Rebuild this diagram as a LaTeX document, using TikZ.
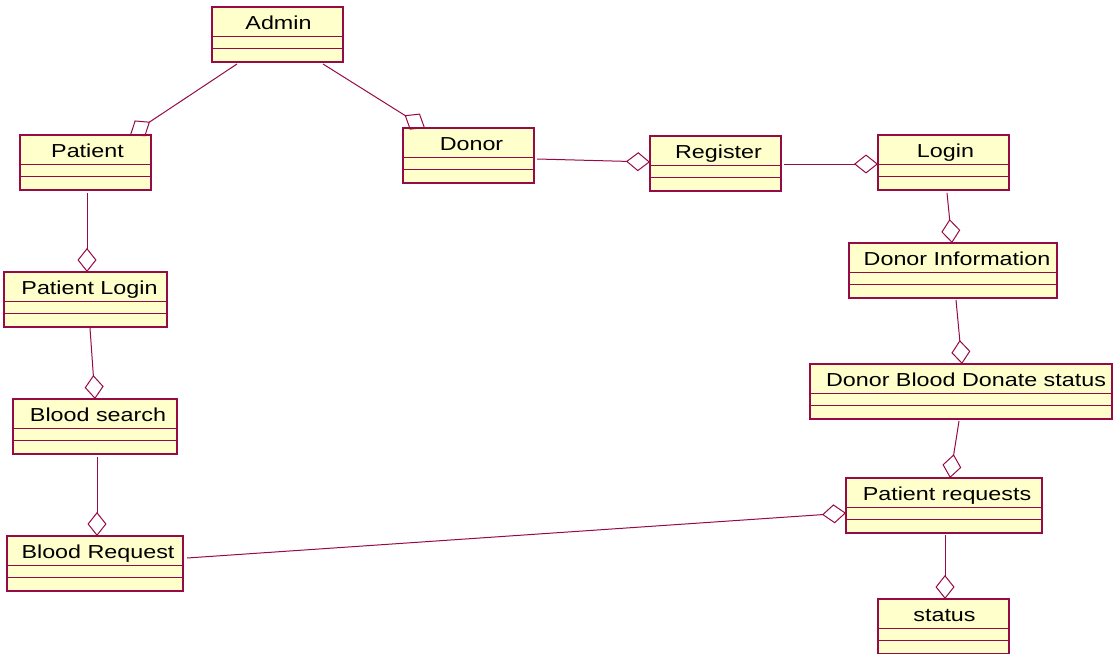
\documentclass[tikz,border=0pt]{standalone}
\usepackage{fontspec}
\newfontfamily\classfont[FakeStretch=1.24]{Liberation Sans}
\usetikzlibrary{arrows.meta,calc}

\definecolor{classline}{RGB}{150,10,70}
\definecolor{classfill}{RGB}{255,255,204}

\tikzset{
  classbox/.style={draw=classline, fill=classfill, line width=1.2pt,
    minimum height=55pt, inner sep=0pt, outer sep=0pt},
  divider/.style={draw=classline, line width=0.8pt},
  classname/.style={font=\classfont\fontsize{18.8}{20}\selectfont, inner sep=0pt},
  agg/.style={draw=classline, line width=1pt,
    -{Diamond[open, length=24pt, width=19pt]}}
}

% \umlclass[text shift]{id}{left}{top}{width}{name}
\newcommand{\umlclass}[6][3]{%
  \node[classbox, minimum width=#5pt, anchor=north west] (#2) at (#3,#4) {};
  \draw[divider] ($(#2.north west)+(0,29.5)$) -- ($(#2.north east)+(0,29.5)$);
  \draw[divider] ($(#2.north west)+(0,41)$) -- ($(#2.north east)+(0,41)$);
  \node[classname, anchor=base] (#2-name) at ($(#2.north)+(#1,22)$) {#6};
}

\begin{document}
\begin{tikzpicture}[x=1pt, y=-1pt]
  \fill[white] (0,0) rectangle (1113,653);
  \useasboundingbox (0,0) rectangle (1113,653);

  % classes
  \umlclass[1]{admin}{212}{7}{131}{Admin}
  \umlclass[2]{patient}{20}{135}{131}{Patient}
  \umlclass[4]{plogin}{4}{272}{163}{Patient Login}
  \umlclass{bsearch}{13}{399}{164}{Blood search}
  \umlclass{breq}{7}{536}{176}{Blood Request}
  \umlclass{donor}{403}{128}{131}{Donor}
  \umlclass{register}{650}{136}{131}{Register}
  \umlclass[2]{login}{878}{135}{131}{Login}
  \umlclass[4]{dinfo}{849}{243}{208}{Donor Information}
  \umlclass[5]{dbds}{810}{364}{302}{Donor Blood Donate status}
  \umlclass{preq}{846}{478}{196}{Patient requests}
  \umlclass[1]{status}{878}{599}{131}{status}

  % aggregations
  \draw[agg] ($(admin.north west)+(25,57)$) -- ($(patient.north west)+(110,0)$);
  \draw[agg] ($(admin.north west)+(111,57)$) -- ($(donor.north west)+(22,0)$);
  \draw[agg] ($(donor.north west)+(134,31)$) -- ($(register.north west)+(0,26)$);
  \draw[agg] ($(register.north west)+(134,28)$) -- ($(login.north west)+(0,29)$);
  \draw[agg] ($(login.north west)+(69,58)$) -- ($(dinfo.north west)+(103,0)$);
  \draw[agg] ($(dinfo.north west)+(107,57)$) -- ($(dbds.north west)+(152,0)$);
  \draw[agg] ($(dbds.north west)+(149,57)$) -- ($(preq.north west)+(104,0)$);
  \draw[agg] ($(preq.north west)+(99,57)$) -- ($(status.north west)+(67,0)$);
  \draw[agg] ($(breq.north west)+(180,22)$) -- ($(preq.north west)+(0,35)$);
  \draw[agg] ($(patient.north west)+(67,58)$) -- ($(plogin.north west)+(83,0)$);
  \draw[agg] ($(plogin.north west)+(86,56)$) -- ($(bsearch.north west)+(82,0)$);
  \draw[agg] ($(bsearch.north west)+(84,58)$) -- ($(breq.north west)+(90,0)$);
\end{tikzpicture}
\end{document}
